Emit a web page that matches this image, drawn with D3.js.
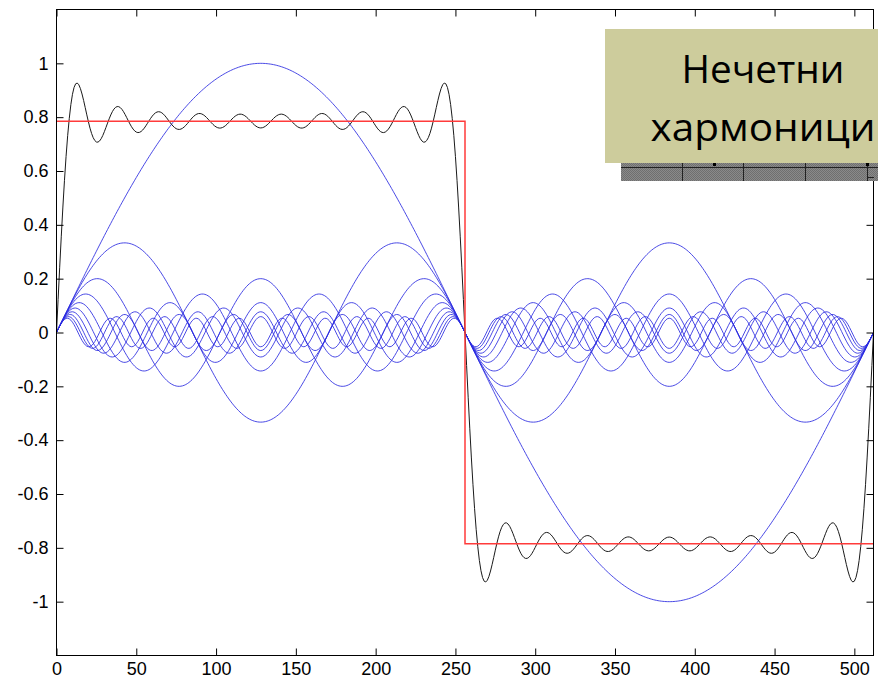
<!DOCTYPE html>
<html>
<head>
<meta charset="utf-8">
<script src="https://cdn.jsdelivr.net/npm/d3@7"></script>
<style>
  body { margin: 0; background: #fff; }
  svg { display: block; }
</style>
</head>
<body>
<div id="chart"></div>
<script>
// odd harmonics of a square wave
const harmonicOrders = [1, 3, 5, 7, 9, 11, 13, 15, 17, 19];
const harmonicAmps = [1, 0.333, 0.2, 0.143, 0.111, 0.091, 0.077, 0.067, 0.059, 0.053];
const samplePeriod = 512;

// ideal square wave (red)
const squareX = [0, 256, 256, 512];
const squareY = [0.785, 0.785, -0.785, -0.785];

const xTicks = [0, 50, 100, 150, 200, 250, 300, 350, 400, 450, 500];
const yTicks = [-1, -0.8, -0.6, -0.4, -0.2, 0, 0.2, 0.4, 0.6, 0.8, 1];

const titleLines = ["Нечетни", "хармоници"];

const width = 878, height = 679;
const plot = {left: 56.5, right: 873.5, top: 9.5, bottom: 655.5};

const svg = d3.select("#chart").append("svg")
  .attr("width", width)
  .attr("height", height);

const x = d3.scaleLinear().domain([0, 512]).range([plot.left, plot.right]);
const y = d3.scaleLinear().domain([-1.2, 1.2]).range([plot.bottom, plot.top]);

// sample each harmonic over one period
const xs = d3.range(0, samplePeriod + 1, 1);
const harmonics = harmonicOrders.map((n, i) =>
  xs.map(t => [t, harmonicAmps[i] * Math.sin(2 * Math.PI * n * t / samplePeriod)]));
const total = xs.map((t, j) => [t, d3.sum(harmonics, h => h[j][1])]);

const line = d3.line().x(d => x(d[0])).y(d => y(d[1]));

svg.append("g")
  .selectAll("path")
  .data(harmonics)
  .join("path")
  .attr("d", line)
  .attr("fill", "none")
  .attr("stroke", "#2a2ae0")
  .attr("stroke-opacity", 0.85)
  .attr("stroke-width", 1);

svg.append("path")
  .datum(total)
  .attr("d", line)
  .attr("fill", "none")
  .attr("stroke", "#1a1a1a")
  .attr("stroke-width", 1);

svg.append("path")
  .datum(squareX.map((v, i) => [v, squareY[i]]))
  .attr("d", line)
  .attr("fill", "none")
  .attr("stroke", "#ff3b3b")
  .attr("stroke-width", 1.5);

// axes, matlab style: inward ticks on all four sides
const fmt = d => String(+d.toFixed(1));

function styleAxis(g) {
  g.select(".domain").remove();
  g.selectAll(".tick line").attr("stroke", "#000");
  g.selectAll(".tick text")
    .attr("fill", "#000")
    .style("font-family", "'Liberation Sans', Arial, sans-serif")
    .style("font-size", "18px");
}

svg.append("g")
  .attr("transform", "translate(0," + plot.bottom + ")")
  .call(d3.axisBottom(x).tickValues(xTicks).tickSize(-7).tickSizeOuter(0).tickPadding(6.5).tickFormat(fmt))
  .call(styleAxis);

svg.append("g")
  .attr("transform", "translate(" + plot.left + ",0)")
  .call(d3.axisLeft(y).tickValues(yTicks).tickSize(-7).tickSizeOuter(0).tickPadding(8).tickFormat(fmt))
  .call(styleAxis);

svg.append("g")
  .attr("transform", "translate(0," + plot.top + ")")
  .call(d3.axisTop(x).tickValues(xTicks).tickSize(-7).tickSizeOuter(0).tickFormat(""))
  .call(styleAxis);

svg.append("g")
  .attr("transform", "translate(" + plot.right + ",0)")
  .call(d3.axisRight(y).tickValues(yTicks).tickSize(-7).tickSizeOuter(0).tickFormat(""))
  .call(styleAxis);

svg.append("rect")
  .attr("x", plot.left).attr("y", plot.top)
  .attr("width", plot.right - plot.left)
  .attr("height", plot.bottom - plot.top)
  .attr("fill", "none")
  .attr("stroke", "#000")
  .attr("stroke-width", 1);

// slide overlay: shadowed table strip and khaki title box
const defs = svg.append("defs");
const pat = defs.append("pattern")
  .attr("id", "checker")
  .attr("width", 2).attr("height", 2)
  .attr("patternUnits", "userSpaceOnUse");
pat.append("rect").attr("width", 2).attr("height", 2).attr("fill", "#8a8a8a");
pat.append("rect").attr("width", 1).attr("height", 1).attr("fill", "#6f6f6f");
pat.append("rect").attr("x", 1).attr("y", 1).attr("width", 1).attr("height", 1).attr("fill", "#6f6f6f");

const strip = svg.append("g");
strip.append("rect")
  .attr("x", 621).attr("y", 163)
  .attr("width", 257).attr("height", 18)
  .attr("fill", "url(#checker)");
strip.append("line")
  .attr("x1", 621).attr("x2", 878).attr("y1", 167.5).attr("y2", 167.5)
  .attr("stroke", "#222");
[682.5, 743.5, 805.5, 867.5].forEach(v => {
  strip.append("line")
    .attr("x1", v).attr("x2", v).attr("y1", 163).attr("y2", 181)
    .attr("stroke", "#222");
});
strip.append("line")
  .attr("x1", 867).attr("x2", 874).attr("y1", 177.5).attr("y2", 177.5)
  .attr("stroke", "#222");
strip.append("rect").attr("x", 713).attr("y", 163).attr("width", 3).attr("height", 3).attr("fill", "#000");
strip.append("rect").attr("x", 866).attr("y", 163).attr("width", 3).attr("height", 3).attr("fill", "#000");

svg.append("rect")
  .attr("x", 605).attr("y", 29)
  .attr("width", 273).attr("height", 134)
  .attr("fill", "#cdcc9c");

const titleWidths = [163, 225];
const titleBase = [83, 141];
svg.append("g")
  .selectAll("text")
  .data(titleLines)
  .join("text")
  .attr("x", 763)
  .attr("y", (d, i) => titleBase[i])
  .attr("text-anchor", "middle")
  .attr("textLength", (d, i) => titleWidths[i])
  .attr("lengthAdjust", "spacingAndGlyphs")
  .style("font-family", "'Open Sans', 'Noto Sans', sans-serif")
  .style("font-size", "39px")
  .attr("fill", "#000")
  .text(d => d);
</script>
</body>
</html>
